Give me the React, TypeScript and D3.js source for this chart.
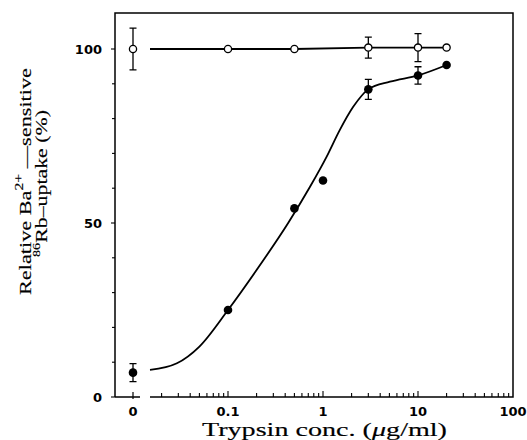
import React, { useEffect, useRef } from "react";
import * as d3 from "d3";

// measured concentrations (ug/ml), 0 = control, drawn at the break
const openX = [0, 0.1, 0.5, 3, 10, 20];
const openY = [100, 100, 100, 100.4, 100.4, 100.4];
const openErr = [6, 0, 0, 3, 4, 0];

const filledX = [0, 0.1, 0.5, 1, 3, 10, 20];
const filledY = [7, 25, 54.2, 62.2, 88.4, 92.4, 95.4];
const filledErr = [2.6, 0, 0, 0, 2.9, 2.5, 0];

// fitted curve through the filled points
const fitX = [0.0151, 0.029, 0.05, 0.1, 0.2, 0.43, 0.73, 1.09, 1.5, 2.08, 3, 5.07, 10, 20];
const fitY = [7.8, 9.7, 14.5, 25, 36.5, 50, 60.4, 69, 76.7, 83.4, 88.4, 90.6, 92.4, 95.4];

const xTickVals = [0.1, 1, 10, 100];
const xTickLabels = ["0.1", "1", "10", "100"];
const yTickVals = [0, 50, 100];

export default function App() {
  const ref = useRef<SVGSVGElement>(null);

  useEffect(() => {
    const svg = d3.select(ref.current);
    svg.selectAll("*").remove();

    const left = 115, right = 513, top = 13, bottom = 397;
    const breakX = 150;
    const x = d3.scaleLog().domain([0.01, 100]).range([133, 513]);
    const px = (v: number) => (v === 0 ? x(0.01) : x(v));
    const y = d3.scaleLinear().domain([0, 100]).range([bottom, 49]);

    const g = svg.append("g");
    const sw = 1.5;

    // frame
    g.append("path")
      .attr("d", `M${left},${bottom}V${top}H${right}V${bottom}H${breakX}M${left},${bottom}H${left + 25}`)
      .attr("fill", "none").attr("stroke", "#000").attr("stroke-width", sw);

    // x ticks (inward)
    g.append("line").attr("x1", px(0)).attr("x2", px(0)).attr("y1", bottom + 2).attr("y2", bottom - 5)
      .attr("stroke", "#000").attr("stroke-width", 1.2);
    const minor: number[] = [];
    for (let e = -2; e < 2; e++) for (let m = 1; m < 10; m++) {
      const v = m * Math.pow(10, e);
      if (v > 0.015) minor.push(v);
    }
    g.selectAll(".xt").data(minor).enter().append("line")
      .attr("x1", d => x(d)).attr("x2", d => x(d))
      .attr("y1", bottom).attr("y2", d => (xTickVals.includes(+d.toPrecision(3)) ? bottom - 6 : bottom - 4))
      .attr("stroke", "#000").attr("stroke-width", 1.1);

    // y ticks (outward)
    g.selectAll(".yt").data(d3.range(0, 101, 10)).enter().append("line")
      .attr("x1", left).attr("x2", d => (d % 50 === 0 ? left - 4 : left - 3))
      .attr("y1", d => y(d)).attr("y2", d => y(d))
      .attr("stroke", "#000").attr("stroke-width", 1.1);

    const tickFont = "'DejaVu Sans', 'Liberation Sans', sans-serif";
    g.selectAll(".yl").data(yTickVals).enter().append("text")
      .attr("x", 102).attr("y", d => y(d)).attr("dy", "0.36em")
      .attr("text-anchor", "end").attr("font-family", tickFont).attr("font-weight", "bold")
      .attr("font-size", 13).text(d => d);

    g.append("text").attr("x", px(0)).attr("y", 416).attr("text-anchor", "middle")
      .attr("font-family", tickFont).attr("font-weight", "bold").attr("font-size", 13).text("0");
    g.selectAll(".xl").data(xTickVals).enter().append("text")
      .attr("x", d => x(d)).attr("y", 416).attr("text-anchor", "middle")
      .attr("font-family", tickFont).attr("font-weight", "bold").attr("font-size", 13)
      .text((d, i) => xTickLabels[i]);

    // axis titles
    const serif = "'Liberation Serif', serif";
    const xt = g.append("text").attr("x", 324.5).attr("y", 436).attr("text-anchor", "middle")
      .attr("font-family", serif).attr("font-size", 19)
      .attr("stroke", "#000").attr("stroke-width", 0.15)
      .attr("textLength", 245).attr("lengthAdjust", "spacingAndGlyphs");
    xt.append("tspan").text("Trypsin conc. (");
    xt.append("tspan").attr("font-style", "italic").text("μ");
    xt.append("tspan").text("g/ml)");

    const yt = g.append("g").attr("transform", "rotate(-90)");
    const l1 = yt.append("text").attr("x", -181.5).attr("y", 31).attr("text-anchor", "middle")
      .attr("font-family", serif).attr("font-size", 17)
      .attr("stroke", "#000").attr("stroke-width", 0.15)
      .attr("textLength", 227).attr("lengthAdjust", "spacingAndGlyphs");
    l1.append("tspan").text("Relative Ba");
    l1.append("tspan").attr("dy", -8).attr("font-size", 12).text("2+");
    l1.append("tspan").attr("dy", 8).text(" —sensitive");
    const l2 = yt.append("text").attr("x", -183.5).attr("y", 47).attr("text-anchor", "middle")
      .attr("font-family", serif).attr("font-size", 17)
      .attr("stroke", "#000").attr("stroke-width", 0.15)
      .attr("textLength", 147).attr("lengthAdjust", "spacingAndGlyphs");
    l2.append("tspan").attr("dy", -7).attr("font-size", 11).text("86");
    l2.append("tspan").attr("dy", 7).text("Rb–uptake (%)");

    // open series line (from the break)
    const openLine = d3.line<[number, number]>().x(d => x(d[0])).y(d => y(d[1]));
    const openPts: [number, number][] = [[0.0151, openY[0]]].concat(
      openX.slice(1).map((v, i) => [v, openY[i + 1]] as [number, number])) as [number, number][];
    g.append("path").attr("d", openLine(openPts)).attr("fill", "none")
      .attr("stroke", "#000").attr("stroke-width", 1.8);

    // fitted curve
    const fit = d3.line<number>().x((d, i) => x(fitX[i])).y(d => y(d)).curve(d3.curveMonotoneX);
    g.append("path").attr("d", fit(fitY)).attr("fill", "none")
      .attr("stroke", "#000").attr("stroke-width", 1.8);

    // error bars
    const errBars = (xs: number[], ys: number[], es: number[]) => {
      xs.forEach((v, i) => {
        if (!es[i]) return;
        const cx = px(v);
        const y1 = y(ys[i] + es[i]), y2 = y(ys[i] - es[i]);
        g.append("path").attr("d", `M${cx},${y1}V${y2}M${cx - 3.5},${y1}H${cx + 3.5}M${cx - 3.5},${y2}H${cx + 3.5}`)
          .attr("fill", "none").attr("stroke", "#000").attr("stroke-width", 1.3);
      });
    };
    errBars(openX, openY, openErr);
    errBars(filledX, filledY, filledErr);

    g.selectAll(".op").data(openX).enter().append("circle")
      .attr("cx", d => px(d)).attr("cy", (d, i) => y(openY[i])).attr("r", 3.6)
      .attr("fill", "#fff").attr("stroke", "#000").attr("stroke-width", 1.3);
    g.selectAll(".fp").data(filledX).enter().append("circle")
      .attr("cx", d => px(d)).attr("cy", (d, i) => y(filledY[i])).attr("r", 4.3)
      .attr("fill", "#000");
  }, []);

  return (
    <svg ref={ref} width={527} height={440}
      style={{ position: "absolute", left: 0, top: 0, background: "#fff" }} />
  );
}
